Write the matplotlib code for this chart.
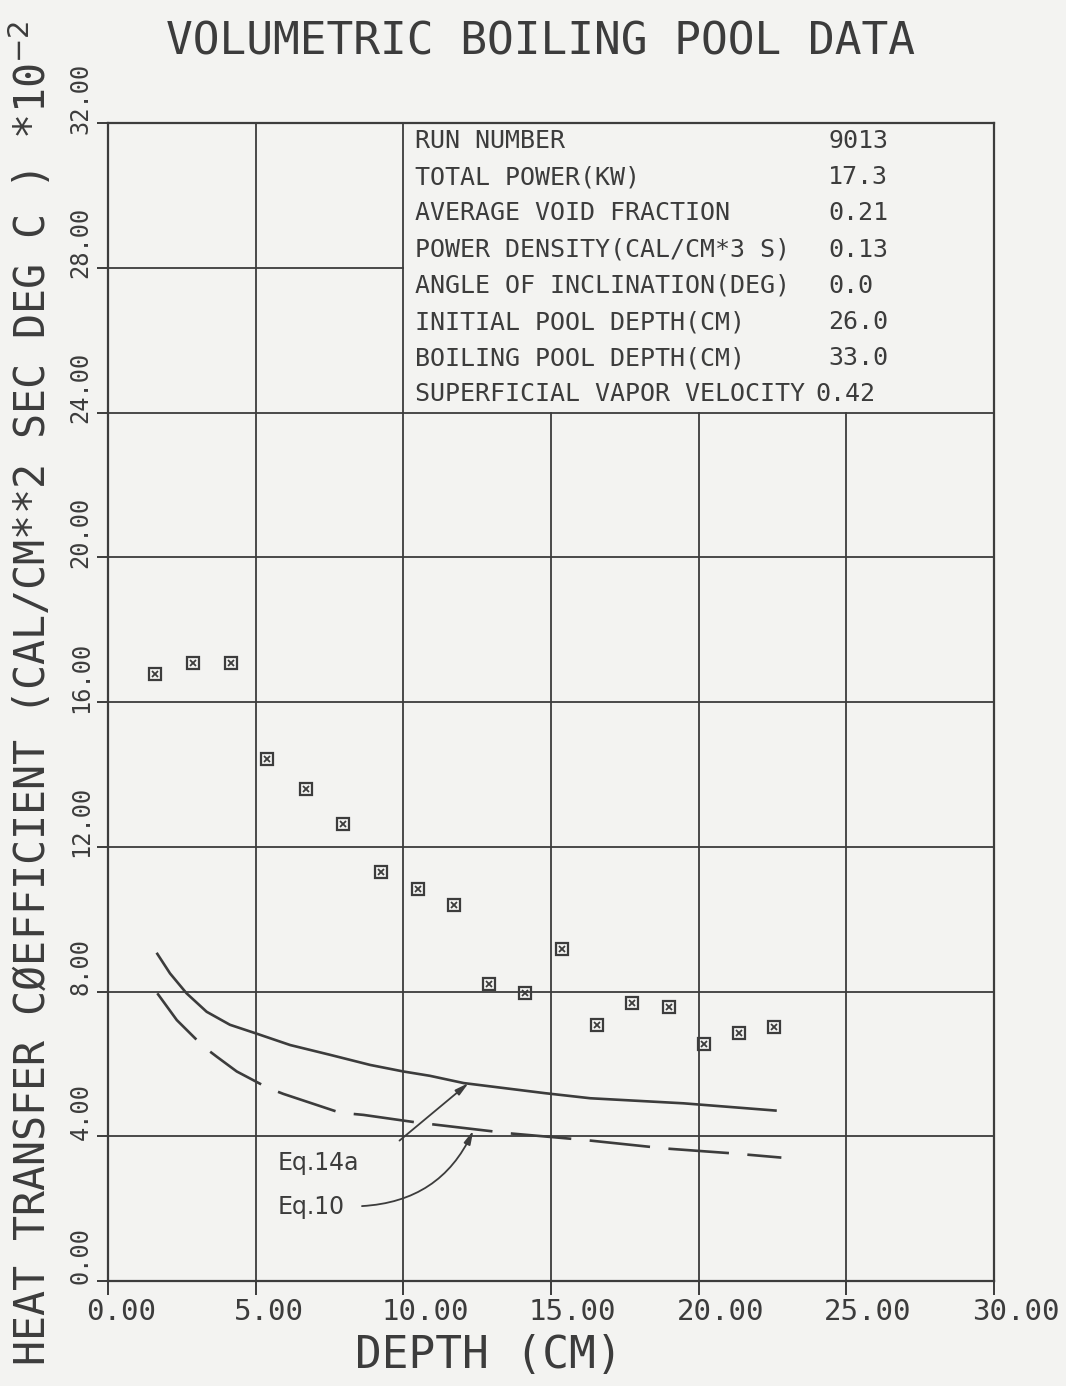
import numpy as np
import matplotlib.pyplot as plt
import matplotlib.transforms as mtransforms

# measured points, heat transfer coefficient (*10^-2) vs depth
depth = [1.59, 2.88, 4.16, 5.38, 6.70, 7.95, 9.24, 10.50, 11.72,
         12.91, 14.12, 15.37, 16.56, 17.75, 18.98, 20.17, 21.36, 22.56]
htc = [16.78, 17.08, 17.08, 14.42, 13.60, 12.63, 11.29, 10.83, 10.39,
       8.21, 7.95, 9.17, 7.07, 7.68, 7.56, 6.55, 6.84, 7.01]

# Eq. 14a (solid curve)
eq14a_x = [1.67, 2.10, 2.66, 3.34, 4.13, 4.98, 6.17, 7.52, 8.88, 10.0,
           10.9, 12.04, 14.8, 16.33, 19.49, 22.6]
eq14a_y = [9.04, 8.50, 7.95, 7.44, 7.08, 6.85, 6.52, 6.25, 5.97, 5.79,
           5.67, 5.47, 5.19, 5.05, 4.91, 4.71]

# Eq. 10 (dashed curve)
eq10_x = [1.67, 2.33, 3.23, 3.68, 4.36, 5.43, 5.94, 7.86, 8.65, 10.46,
          13.6, 16.1, 18.9, 21.1, 22.8]
eq10_y = [7.95, 7.21, 6.48, 6.20, 5.79, 5.33, 5.17, 4.65, 4.59, 4.38,
          4.08, 3.90, 3.66, 3.53, 3.41]

x_ticks = [0, 5, 10, 15, 20, 25, 30]
x_labels = ["0.00", "5.00", "10.00", "15.00", "20.00", "25.00", "30.00"]
y_ticks = [0, 4, 8, 12, 16, 20, 24, 28, 32]
y_labels = ["0.00", "4.00", "8.00", "12.00", "16.00", "20.00", "24.00", "28.00", "32.00"]

run_labels = ["RUN NUMBER", "TOTAL POWER(KW)", "AVERAGE VOID FRACTION",
              "POWER DENSITY(CAL/CM*3 S)", "ANGLE OF INCLINATION(DEG)",
              "INITIAL POOL DEPTH(CM)", "BOILING POOL DEPTH(CM)",
              "SUPERFICIAL VAPOR VELOCITY"]
run_values = ["9013", "17.3", "0.21", "0.13", "0.0", "26.0", "33.0", "0.42"]

ink = "#3c3c3c"
paper = "#f3f3f1"
mono = "DejaVu Sans Mono"

plt.rcParams['font.family'] = [mono, 'DejaVu Sans']
plt.rcParams['mathtext.fontset'] = 'dejavusans'

fig = plt.figure(figsize=(10.66, 13.86), dpi=100, facecolor=paper)
ax = fig.add_axes([108 / 1066, 105 / 1386, 886 / 1066, 1158 / 1386])
ax.set_facecolor(paper)
ax.set_xlim(0, 30)
ax.set_ylim(0, 32)

# grid, broken around the run table in the upper right
gkw = dict(color=ink, lw=1.3, zorder=1)
for xv in [5, 10]:
    ax.axvline(xv, **gkw)
for xv in [15, 20, 25]:
    ax.axvline(xv, ymax=24 / 32, **gkw)
for yv in [4, 8, 12, 16, 20, 24]:
    ax.axhline(yv, **gkw)
ax.axhline(28, xmax=10 / 30, **gkw)

for s in ax.spines.values():
    s.set_color(ink)
    s.set_linewidth(1.6)

ax.set_xticks(x_ticks)
ax.set_xticklabels(x_labels, fontsize=21, color=ink, ha='left')
ax.set_yticks(y_ticks)
ax.set_yticklabels(y_labels, fontsize=17, color=ink, rotation=90, va='center')
ax.tick_params(axis='x', direction='out', length=10, width=1.4, color=ink, pad=2)
ax.tick_params(axis='y', direction='out', length=8, width=1.4, color=ink, pad=3)

# plotter put the labels a little off their ticks
xshift = mtransforms.ScaledTranslation(-0.22, 0, fig.dpi_scale_trans)
for lab in ax.get_xticklabels():
    lab.set_transform(lab.get_transform() + xshift)
yshift = mtransforms.ScaledTranslation(0, 0.25, fig.dpi_scale_trans)
for lab in ax.get_yticklabels():
    lab.set_transform(lab.get_transform() + yshift)

# data points: boxes with a cross
ax.plot(depth, htc, ls='none', marker='s', ms=9, mfc='none', mec=ink, mew=1.6, zorder=4)
ax.plot(depth, htc, ls='none', marker='x', ms=4.8, mec=ink, mew=1.3, zorder=4)

# correlation curves
ax.plot(eq14a_x, eq14a_y, color=ink, lw=1.9, zorder=3)
ax.plot(eq10_x, eq10_y, color=ink, lw=1.9, dashes=(23, 7), zorder=3)

ax.text(5.76, 3.26, "Eq.14a", fontsize=17, family='DejaVu Sans', color=ink, va='center')
ax.text(5.76, 2.04, "Eq.10", fontsize=17, family='DejaVu Sans', color=ink, va='center')
ax.annotate("", xy=(12.21, 5.47), xytext=(9.87, 3.88),
            arrowprops=dict(arrowstyle='-|>,head_length=0.8,head_width=0.2',
                            color=ink, lw=1.3, shrinkA=0, shrinkB=0))
ax.annotate("", xy=(12.37, 4.16), xytext=(8.6, 2.07),
            arrowprops=dict(arrowstyle='-|>,head_length=0.8,head_width=0.2',
                            color=ink, lw=1.3, shrinkA=0, shrinkB=0,
                            connectionstyle='arc3,rad=0.3'))

# run table
for i, (lab, val) in enumerate(zip(run_labels, run_values)):
    yy = 31.5 - i
    ax.text(10.4, yy, lab, fontsize=18, color=ink, va='center')
    xv = 23.95 if i == len(run_labels) - 1 else 24.39
    ax.text(xv, yy, val, fontsize=18, color=ink, va='center')

fig.text(540 / 1066, 1 - 42 / 1386, "VOLUMETRIC BOILING POOL DATA",
         fontsize=32, color=ink, ha='center', va='center')
fig.text(489 / 1066, 1 - 1355 / 1386, "DEPTH (CM)",
         fontsize=32, color=ink, ha='center', va='center')
fig.text(31 / 1066, 0.5,
         r"HEAT TRANSFER CØEFFICIENT (CAL/CM**2 SEC DEG C ) *10$^{-2}$",
         fontsize=30, color=ink, rotation=90, ha='center', va='center')

fig.savefig("out.png", dpi=100, facecolor=paper)
